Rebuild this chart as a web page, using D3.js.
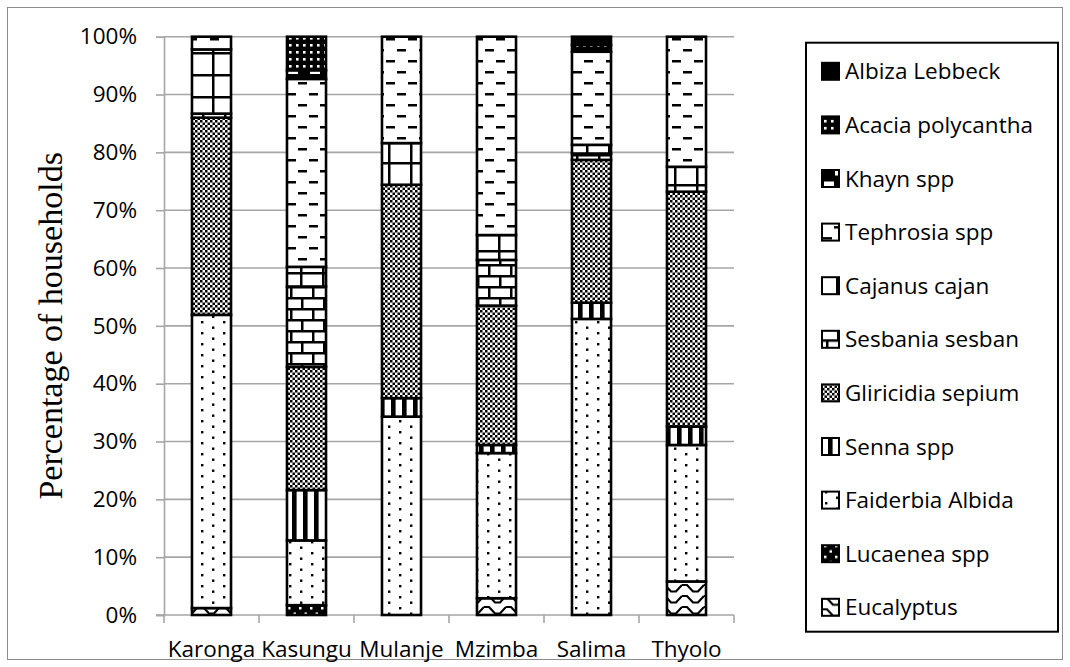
<!DOCTYPE html>
<html>
<head>
<meta charset="utf-8">
<script src="https://cdn.jsdelivr.net/npm/d3@7"></script>
<style>
  html, body { margin: 0; padding: 0; background: #fff; }
  svg { display: block; }
</style>
</head>
<body>
<svg id="chart" width="1070" height="667"></svg>
<script>
// Districts along the x axis
const categories = ["Karonga", "Kasungu", "Mulanje", "Mzimba", "Salima", "Thyolo"];

// Share of households (%) per species, stacked bottom to top
const eucalyptus = [1.2, 0, 0, 2.9, 0, 5.8];
const lucaenea   = [0, 1.7, 0, 0, 0, 0];
const faiderbia  = [50.7, 11.2, 34.3, 25.1, 51.2, 23.6];
const senna      = [0, 8.7, 3.2, 1.4, 2.8, 3.2];
const gliricidia = [34.1, 21.3, 36.9, 24.1, 24.7, 40.6];
const sesbania   = [0.7, 13.9, 0, 7.9, 1.1, 0];
const cajanus    = [11.1, 3.4, 7.2, 4.3, 1.5, 4.3];
const tephrosia  = [2.2, 32.5, 18.4, 34.3, 16.1, 22.5];
const khayn      = [0, 1.5, 0, 0, 0, 0];
const acacia     = [0, 5.8, 0, 0, 1.2, 0];
const albiza     = [0, 0, 0, 0, 1.4, 0];

const seriesNames = ["Eucalyptus", "Lucaenea spp", "Faiderbia Albida", "Senna spp",
  "Gliricidia sepium", "Sesbania sesban", "Cajanus cajan", "Tephrosia spp",
  "Khayn spp", "Acacia polycantha", "Albiza Lebbeck"];
const seriesValues = [eucalyptus, lucaenea, faiderbia, senna, gliricidia, sesbania,
  cajanus, tephrosia, khayn, acacia, albiza];

const yTicks = [0, 10, 20, 30, 40, 50, 60, 70, 80, 90, 100];

const svg = d3.select("#chart");
const FONT = "'Open Sans', 'Liberation Sans', sans-serif";
const FS = 22.5;

// ---------- fill patterns ----------
const defs = svg.append("defs");
function pat(id, w, h, bg, draw) {
  const p = defs.append("pattern").attr("id", id)
    .attr("patternUnits", "userSpaceOnUse").attr("width", w).attr("height", h);
  p.append("rect").attr("width", w).attr("height", h).attr("fill", bg);
  draw(p);
}
// Eucalyptus: wave
pat("p0", 22, 11, "#fff", p => {
  p.append("path").attr("d", "M0,2 L5,2 L11,8.5 L16,8.5 L22,2")
    .attr("fill", "none").attr("stroke", "#000").attr("stroke-width", 2.2);
});
// Lucaenea: white dots on black
pat("p1", 11, 11, "#000", p => {
  p.append("rect").attr("x", 2).attr("y", 2).attr("width", 2.5).attr("height", 2.5).attr("fill", "#fff");
  p.append("rect").attr("x", 7.5).attr("y", 7.5).attr("width", 2.5).attr("height", 2.5).attr("fill", "#fff");
});
// Faiderbia: sparse dots
pat("p2", 22, 11, "#fff", p => {
  p.append("rect").attr("x", 3).attr("y", 2).attr("width", 2.4).attr("height", 2.4).attr("fill", "#000");
  p.append("rect").attr("x", 14).attr("y", 7.5).attr("width", 2.4).attr("height", 2.4).attr("fill", "#000");
});
// Senna: wide vertical stripes
pat("p3", 11, 11, "#fff", p => {
  p.append("rect").attr("x", 6).attr("y", 0).attr("width", 4.6).attr("height", 11).attr("fill", "#000");
});
// Gliricidia: fine checkerboard
pat("p4", 5, 5, "#fff", p => {
  p.append("rect").attr("x", 0).attr("y", 0).attr("width", 2.5).attr("height", 2.5).attr("fill", "#000");
  p.append("rect").attr("x", 2.5).attr("y", 2.5).attr("width", 2.5).attr("height", 2.5).attr("fill", "#000");
});
// Sesbania: horizontal brick
pat("p5", 22, 22, "#fff", p => {
  p.append("rect").attr("x", 0).attr("y", 0).attr("width", 22).attr("height", 2.5).attr("fill", "#000");
  p.append("rect").attr("x", 0).attr("y", 11).attr("width", 22).attr("height", 2.5).attr("fill", "#000");
  p.append("rect").attr("x", 4).attr("y", 0).attr("width", 2.5).attr("height", 11).attr("fill", "#000");
  p.append("rect").attr("x", 15).attr("y", 11).attr("width", 2.5).attr("height", 11).attr("fill", "#000");
});
// Cajanus: large grid
pat("p6", 22, 22, "#fff", p => {
  p.append("rect").attr("x", 0).attr("y", 8).attr("width", 22).attr("height", 2.5).attr("fill", "#000");
  p.append("rect").attr("x", 14).attr("y", 0).attr("width", 2.5).attr("height", 22).attr("fill", "#000");
});
// Tephrosia: dashed horizontal
pat("p7", 22, 22, "#fff", p => {
  p.append("rect").attr("x", 1).attr("y", 5).attr("width", 9).attr("height", 2.5).attr("fill", "#000");
  p.append("rect").attr("x", 12).attr("y", 16).attr("width", 9).attr("height", 2.5).attr("fill", "#000");
});
// Khayn: black with white blocks
pat("p8", 22, 22, "#000", p => {
  p.append("rect").attr("x", 2).attr("y", 3).attr("width", 10).attr("height", 5).attr("fill", "#fff");
  p.append("rect").attr("x", 13).attr("y", 14).attr("width", 7).attr("height", 5).attr("fill", "#fff");
});
// Acacia: dotted grid on black
pat("p9", 7, 7, "#000", p => {
  p.append("rect").attr("x", 2).attr("y", 2).attr("width", 2.6).attr("height", 2.6).attr("fill", "#fff");
});
// Albiza: solid black
pat("p10", 4, 4, "#000", p => {});

// ---------- scales ----------
const plot = { left: 164, right: 734, top: 36.7, bottom: 615 };
const x = d3.scaleBand().domain(categories)
  .range([plot.left, plot.right]).paddingInner(0.589).paddingOuter(0.2945);
const y = d3.scaleLinear().domain([0, 100]).range([plot.bottom, plot.top]);

// outer chart frame
svg.append("rect").attr("x", 7.5).attr("y", 7.5).attr("width", 1055).attr("height", 652)
  .attr("fill", "none").attr("stroke", "#8c8c8c").attr("stroke-width", 1);

// ---------- gridlines & axes ----------
svg.append("g").selectAll("line").data(yTicks.filter(t => t > 0)).join("line")
  .attr("x1", plot.left).attr("x2", plot.right)
  .attr("y1", d => y(d)).attr("y2", d => y(d))
  .attr("stroke", "#a6a6a6").attr("stroke-width", 1.6);

const yAxis = svg.append("g").attr("transform", `translate(${plot.left},0)`)
  .call(d3.axisLeft(y).tickValues(yTicks).tickSize(8).tickPadding(19).tickFormat(d => d + "%"));
yAxis.select(".domain").attr("stroke", "#a6a6a6").attr("stroke-width", 1.6);
yAxis.selectAll(".tick line").attr("stroke", "#a6a6a6").attr("stroke-width", 1.6);
yAxis.selectAll("text").attr("font-family", FONT).attr("font-size", FS).attr("fill", "#000");

// x axis with tick marks at the category boundaries
const boundaries = d3.range(categories.length + 1).map(i => plot.left + i * x.step());
const xAxis = svg.append("g");
xAxis.append("line").attr("x1", plot.left - 8).attr("x2", plot.right)
  .attr("y1", plot.bottom).attr("y2", plot.bottom)
  .attr("stroke", "#a6a6a6").attr("stroke-width", 1.6);
xAxis.selectAll(".bt").data(boundaries).join("line").attr("class", "bt")
  .attr("x1", d => d).attr("x2", d => d)
  .attr("y1", plot.bottom).attr("y2", plot.bottom + 8)
  .attr("stroke", "#a6a6a6").attr("stroke-width", 1.6);
xAxis.selectAll("text").data(categories).join("text")
  .attr("x", d => x(d) + x.bandwidth() / 2).attr("y", 657)
  .attr("text-anchor", "middle").attr("font-family", FONT).attr("font-size", FS)
  .attr("fill", "#000").text(d => d);

// y axis title
svg.append("text")
  .attr("transform", `translate(62,${(plot.top + plot.bottom) / 2}) rotate(-90)`)
  .attr("text-anchor", "middle")
  .attr("font-family", "'Liberation Serif', 'Times New Roman', serif")
  .attr("font-size", 34).attr("fill", "#000")
  .text("Percentage of households");

// ---------- stacked bars ----------
const table = categories.map((c, i) => {
  const row = { category: c };
  seriesNames.forEach((s, k) => { row[s] = seriesValues[k][i]; });
  return row;
});
const stacked = d3.stack().keys(seriesNames)(table);

svg.append("g").selectAll("g").data(stacked).join("g")
  .attr("fill", (d, i) => `url(#p${i})`)
  .selectAll("rect").data(d => d.filter(v => v[1] - v[0] > 0)).join("rect")
  .attr("x", d => x(d.data.category))
  .attr("width", x.bandwidth())
  .attr("y", d => y(d[1]))
  .attr("height", d => y(d[0]) - y(d[1]))
  .attr("stroke", "#000").attr("stroke-width", 2.6);

// ---------- legend ----------
const legend = svg.append("g");
legend.append("rect").attr("x", 806).attr("y", 42.7).attr("width", 252).attr("height", 589)
  .attr("fill", "#fff").attr("stroke", "#000").attr("stroke-width", 2);
const legendOrder = seriesNames.map((s, i) => ({ name: s, idx: i })).reverse();
const item = legend.selectAll(".item").data(legendOrder).join("g").attr("class", "item")
  .attr("transform", (d, i) => `translate(822,${71.3 + i * 53.6})`);
item.append("rect").attr("x", 0).attr("y", -8.5).attr("width", 17).attr("height", 17)
  .attr("fill", d => `url(#p${d.idx})`).attr("stroke", "#000").attr("stroke-width", 2);
item.append("text").attr("x", 23).attr("y", 0).attr("dy", "0.36em")
  .attr("font-family", FONT).attr("font-size", FS).attr("fill", "#000")
  .text(d => d.name);
</script>
</body>
</html>
